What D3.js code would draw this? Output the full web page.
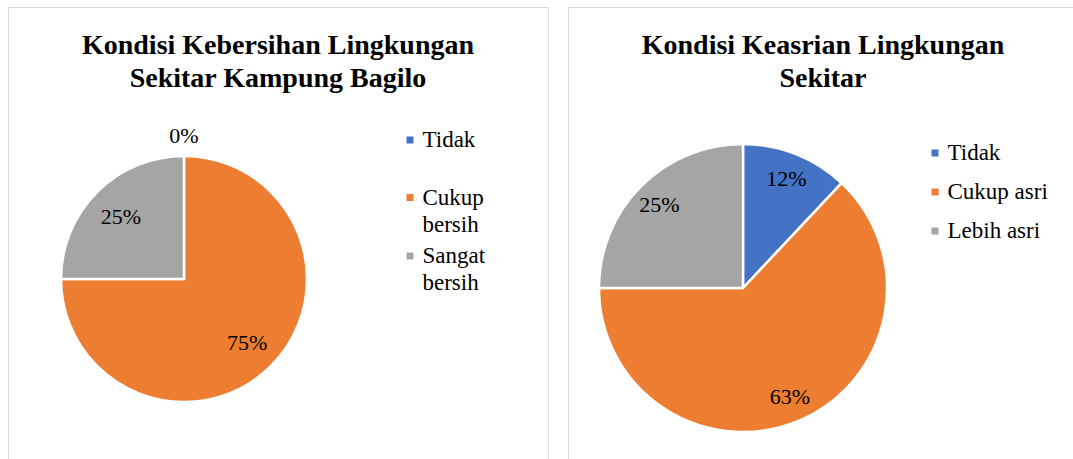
<!DOCTYPE html>
<html>
<head>
<meta charset="utf-8">
<script src="https://cdn.jsdelivr.net/npm/d3@7"></script>
<style>
  body { margin: 0; background: #fff; }
  text { font-family: "Liberation Serif", "Times New Roman", serif; fill: #000; }
</style>
</head>
<body>
<script>
// data
var leftTitle = ["Kondisi Kebersihan Lingkungan", "Sekitar Kampung Bagilo"];
var leftCategories = ["Tidak", "Cukup bersih", "Sangat bersih"];
var leftValues = [0, 75, 25];
var leftLegendLines = [["Tidak"], ["Cukup", "bersih"], ["Sangat", "bersih"]];

var rightTitle = ["Kondisi Keasrian Lingkungan", "Sekitar"];
var rightCategories = ["Tidak", "Cukup asri", "Lebih asri"];
var rightValues = [12, 63, 25];
var rightLegendLines = [["Tidak"], ["Cukup asri"], ["Lebih asri"]];

var colors = ["#4472C4", "#ED7D31", "#A5A5A5"];

var w = 1073, h = 459;
var svg = d3.select("body").append("svg")
    .attr("width", w)
    .attr("height", h);

// panel frames
svg.append("rect").attr("x", 8.5).attr("y", 7.5).attr("width", 540).attr("height", 470)
    .attr("fill", "none").attr("stroke", "#d9d9d9");
svg.append("rect").attr("x", 568.5).attr("y", 7.5).attr("width", 520).attr("height", 470)
    .attr("fill", "none").attr("stroke", "#d9d9d9");

function pieChart(opt) {
    var g = svg.append("g");

    // title, two lines
    g.selectAll("text.title")
        .data(opt.title)
        .enter()
        .append("text")
        .attr("class", "title")
        .attr("x", opt.titleX)
        .attr("y", function(d, i) { return 54 + i * 33; })
        .attr("text-anchor", "middle")
        .attr("font-size", 28)
        .attr("font-weight", "bold")
        .text(function(d) { return d; });

    var color = d3.scaleOrdinal().domain(opt.categories).range(colors);
    var pie = d3.pie().sort(null).value(function(d) { return d.value; });
    var data = opt.categories.map(function(c, i) { return { cat: c, value: opt.values[i] }; });
    var arcs = pie(data);

    var arc = d3.arc().innerRadius(0).outerRadius(opt.r);
    var pieG = g.append("g").attr("transform", "translate(" + opt.cx + "," + opt.cy + ")");

    pieG.selectAll("path")
        .data(arcs)
        .enter()
        .append("path")
        .attr("d", arc)
        .attr("fill", function(d) { return color(d.data.cat); })
        .attr("stroke", "#fff")
        .attr("stroke-width", 2.5)
        .attr("stroke-linejoin", "round");

    // data labels (0% slice gets its label outside)
    pieG.selectAll("text")
        .data(arcs)
        .enter()
        .append("text")
        .attr("transform", function(d) {
            var f = d.data.value === 0 ? 1.17 : opt.labelF;
            var a = (d.startAngle + d.endAngle) / 2;
            return "translate(" + (Math.sin(a) * opt.r * f) + "," + (-Math.cos(a) * opt.r * f) + ")";
        })
        .attr("text-anchor", "middle")
        .attr("dy", "0.35em")
        .attr("font-size", 22)
        .text(function(d) { return d3.format(".0f")(d.value) + "%"; });

    // legend
    var leg = g.selectAll("g.leg")
        .data(opt.categories)
        .enter()
        .append("g")
        .attr("class", "leg")
        .attr("transform", function(d, i) { return "translate(" + opt.legX + "," + opt.legY[i] + ")"; });
    leg.append("rect")
        .attr("x", -3.5).attr("y", -3.5).attr("width", 7).attr("height", 7)
        .attr("fill", function(d) { return color(d); });
    leg.each(function(d, i) {
        d3.select(this).selectAll("text")
            .data(opt.legendLines[i])
            .enter()
            .append("text")
            .attr("x", 12.5)
            .attr("y", function(t, j) { return 7 + j * 27; })
            .attr("font-size", 23)
            .text(function(t) { return t; });
    });
}

pieChart({
    title: leftTitle, titleX: 278,
    categories: leftCategories, values: leftValues, legendLines: leftLegendLines,
    cx: 184, cy: 279, r: 123, labelF: 0.725,
    legX: 410, legY: [140, 197.5, 256]
});

pieChart({
    title: rightTitle, titleX: 823,
    categories: rightCategories, values: rightValues, legendLines: rightLegendLines,
    cx: 743, cy: 288, r: 144, labelF: 0.82,
    legX: 935, legY: [153, 192, 231]
});
</script>
</body>
</html>
